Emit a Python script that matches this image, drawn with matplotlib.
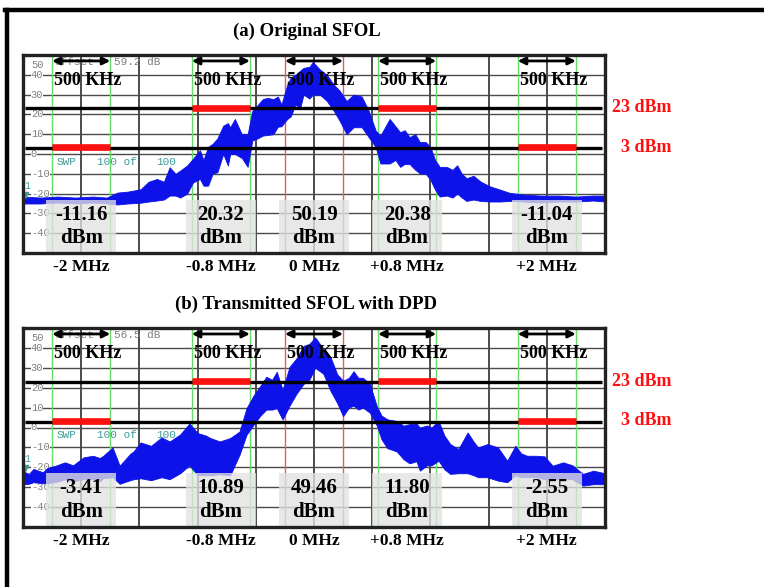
import matplotlib
matplotlib.use('Agg')
import numpy as np
import matplotlib.pyplot as plt
from matplotlib.patches import Rectangle
from matplotlib.lines import Line2D
import matplotlib.transforms as mtransforms

freq_a = [-2.50, -2.35, -2.20, -2.05, -1.90, -1.78, -1.69, -1.60, -1.49, -1.42,
          -1.35, -1.29, -1.24, -1.19, -1.15, -1.09, -1.04, -0.98, -0.95, -0.91,
          -0.87, -0.83, -0.78, -0.74, -0.72, -0.68, -0.62, -0.57, -0.53, -0.48,
          -0.44, -0.40, -0.35, -0.31, -0.28, -0.23, -0.20, -0.16, -0.12, -0.09,
          -0.04, -0.01, 0.05, 0.11, 0.17, 0.22, 0.28, 0.34, 0.41, 0.47,
          0.53, 0.57, 0.65, 0.70, 0.74, 0.78, 0.82, 0.87, 0.91, 0.96,
          1.00, 1.04, 1.08, 1.14, 1.19, 1.23, 1.27, 1.31, 1.37, 1.43,
          1.51, 1.60, 1.68, 1.80, 1.95, 2.10, 2.25, 2.40, 2.50]
top_a = [-21.5, -22, -21.5, -22, -21.5, -22, -19.5, -19, -17.8, -14,
         -12.6, -14, -6.7, -10, -8.4, -5.8, -2.4, 1.9, -3, 3.6,
         5.2, 7.9, 14.3, 15.6, 13.5, 17.7, 10, 10, 21.8, 25,
         27.7, 28.4, 27.7, 29, 25, 35, 38.6, 40, 42, 43.5,
         44, 46.5, 42.7, 40, 35, 32, 26.8, 30, 29, 21.8,
         11.8, 9.3, 17.7, 14, 11, 12, 8.5, 10, 6, 6,
         3.5, -3, -6.5, -6.5, -8, -5.7, -10, -12.2, -11, -13.9,
         -16.3, -18, -19.6, -20.5, -21, -21, -21.5, -21, -21]
bot_a = [-25, -25, -24.5, -25, -24.5, -25, -25.5, -25, -24.6, -24,
         -23.5, -23, -21, -21, -22, -20, -14.4, -12.6, -16, -16,
         -9.8, -9.2, 0, -5.8, 0, 0, -2, -6.5, 6.8, 8,
         9.3, 9.6, 10, 13.8, 14, 17.7, 19, 25, 23, 30,
         28, 30, 30, 26.8, 21.8, 16.8, 10, 13.5, 13.5, 8.5,
         3.5, -4.8, -4.8, -3, -6.5, -5, -5, -8, -9.8, -10,
         -13, -18, -21.5, -21, -22, -20, -22, -23.7, -23, -23.7,
         -24, -24, -23.7, -24, -24.5, -24, -24, -23.5, -24]

freq_b = [-2.50, -2.45, -2.41, -2.33, -2.29, -2.22, -2.14, -2.07, -1.98, -1.90,
          -1.84, -1.81, -1.73, -1.67, -1.58, -1.55, -1.49, -1.40, -1.31, -1.24,
          -1.15, -1.07, -1.00, -0.93, -0.89, -0.81, -0.72, -0.64, -0.58, -0.52,
          -0.46, -0.41, -0.36, -0.32, -0.27, -0.21, -0.15, -0.09, -0.04, 0.01,
          0.08, 0.14, 0.20, 0.25, 0.30, 0.34, 0.38, 0.42, 0.48, 0.54,
          0.58, 0.63, 0.71, 0.77, 0.82, 0.88, 0.91, 0.97, 1.01, 1.07,
          1.12, 1.17, 1.24, 1.32, 1.37, 1.41, 1.49, 1.58, 1.66, 1.73,
          1.78, 1.83, 1.91, 1.98, 2.05, 2.14, 2.22, 2.31, 2.40, 2.50]
top_b = [-22, -23.3, -20.8, -22.5, -20.3, -19.2, -17.5, -19, -15, -14.2,
         -15.3, -14.2, -10, -19.2, -13.3, -12, -7.5, -9.2, -5, -7,
         -3.5, 2, -2.8, -4, -5.3, -7, -5.3, -2, 9.7, 16,
         21, 25.5, 24, 28, 19, 30.5, 34.8, 41, 42, 45.3,
         39.6, 35.6, 26.7, 23.5, 25, 28.3, 25, 25, 21.9, 10.6,
         6, 4.1, 3.3, 0.9, 1.7, 2, 0, 1, 0, 3.3,
         -4, -8.3, -10.8, -2.5, -7, -10, -8.3, -10, -16.7, -9.2,
         -13, -14.2, -14.2, -14.5, -19.2, -17.5, -19, -23.3, -21.7, -23]
bot_b = [-28.5, -28.3, -27.5, -28, -28, -27.5, -26, -27, -26, -26,
         -27, -25.5, -25, -28.3, -26.5, -26, -25.5, -26.5, -25, -26,
         -23, -19, -24, -24, -24, -23.5, -24, -13.7, -3.7, 1.3,
         6, 9, 9, 9.7, 4, 11, 17, 21.9, 24, 30,
         27, 18.6, 12.2, 5.7, 10, 11, 9, 10, 7.4, 0.9,
         -6, -10.4, -12, -16, -18, -17, -21.7, -19, -19, -16.7,
         -21, -23.3, -23, -23, -24, -25, -25, -26.7, -27.5, -24,
         -25, -25, -25, -26, -26, -25.5, -26, -29.2, -28.5, -28.5]

channels = [-2, -0.8, 0, 0.8, 2]
chan_width = 0.5
chan_labels = ['-2 MHz', '-0.8 MHz', '0 MHz', '+0.8 MHz', '+2 MHz']
mask_level = [3, 23, None, 23, 3]
limit_lines = [23, 3]
limit_labels = ['23 dBm', '3 dBm']
power_a = ['-11.16', '20.32', '50.19', '20.38', '-11.04']
power_b = ['-3.41', '10.89', '49.46', '11.80', '-2.55']
offset_a = '59.2'
offset_b = '56.5'
ylevels = [40, 30, 20, 10, 0, -10, -20, -30, -40]

SERIF = ['Liberation Serif', 'DejaVu Serif']
MONO = ['Liberation Mono', 'DejaVu Sans Mono']
BLUE = '#0c12e8'
TEAL = '#3c9a9a'

fig = plt.figure(figsize=(7.64, 5.87), dpi=100)

# frame lines of the page (top and left)
fig.add_artist(Line2D([5 / 764, 1], [1 - 10 / 587, 1 - 10 / 587], color='black', lw=3.2))
fig.add_artist(Line2D([7 / 764, 7 / 764], [0, 1 - 10 / 587], color='black', lw=3.2))


def draw_panel(ax, title, freq, top, bot, powers, offset):
    ax.set_xlim(-2.5, 2.5)
    ax.set_ylim(-50, 50)
    for s in ax.spines.values():
        s.set_linewidth(2.4)
        s.set_color('#222222')
        s.set_zorder(20)

    # analyzer graticule
    for gx in np.linspace(-2.5, 2.5, 11)[1:-1]:
        ax.axvline(gx, color='#1a1a1a', lw=1.1, zorder=1)
    for gy in ylevels:
        ax.axhline(gy, color='#4a4a4a', lw=1.0, zorder=1)

    # left-side scale labels of the instrument
    trans = mtransforms.blended_transform_factory(ax.transAxes, ax.transData)
    for gy in ylevels:
        ax.text(0.0135, gy, str(gy), transform=trans, fontsize=7.5, family=MONO,
                color='#808080', va='center', ha='left', zorder=2,
                bbox=dict(facecolor='white', edgecolor='none', pad=0.0))
    ax.text(0.0135, 45.2, '50', transform=trans, fontsize=7.5, family=MONO,
            color='#808080', va='center', ha='left', zorder=2)
    ax.text(-2.23, 46.6, 'Offset', fontsize=8, family=MONO, color='#808080',
            va='center', ha='left', zorder=2)
    ax.text(-1.72, 46.6, offset + ' dB', fontsize=8, family=MONO, color='#808080',
            va='center', ha='left', zorder=2)
    ax.text(-2.21, -4, 'SWP', fontsize=8, family=MONO, color=TEAL, va='center', zorder=2)
    ax.text(-1.86, -4, '100 of', fontsize=8, family=MONO, color=TEAL, va='center', zorder=2)
    ax.text(-1.36, -4, '100', fontsize=8, family=MONO, color=TEAL, va='center', zorder=2)
    ax.text(-2.49, -16, '1', fontsize=7, family=MONO, color=TEAL, va='center', zorder=2)
    ax.plot([-2.485], [-20.5], marker='v', color=TEAL, ms=5, zorder=4, clip_on=False)

    # channel borders
    for c in channels:
        col = '#e06060' if c == 0 else '#66dd66'
        for e in (c - chan_width / 2, c + chan_width / 2):
            ax.axvline(e, color=col, lw=1.0, zorder=2)

    # spectrum trace
    ax.fill_between(freq, bot, top, color=BLUE, lw=0.6, edgecolor=BLUE, zorder=3)

    # limit lines and mask bars
    for lv in limit_lines:
        ax.plot([-2.48, 2.47], [lv, lv], color='black', lw=2.4, zorder=4,
                solid_capstyle='butt')
    for c, m in zip(channels, mask_level):
        if m is not None:
            ax.plot([c - chan_width / 2, c + chan_width / 2], [m + 0.4, m + 0.4],
                    color='#ff1010', lw=4.8, zorder=5, solid_capstyle='butt')

    # channel arrows and labels
    for c in channels:
        l, r = c - chan_width / 2, c + chan_width / 2
        ax.annotate('', xy=(r, 47), xytext=(l, 47),
                    arrowprops=dict(arrowstyle='<|-|>', lw=2.0, color='black',
                                    mutation_scale=11, shrinkA=0, shrinkB=0),
                    zorder=8)
        ax.text(l + 0.02, 37.2, '500 KHz', family=SERIF, fontweight='bold',
                fontsize=13, va='center', ha='left', zorder=9)

    # channel power boxes
    for c, p in zip(channels, powers):
        ax.add_patch(Rectangle((c - 0.3, -50), 0.6, 27, facecolor='#e2e2e2',
                               edgecolor='none', alpha=0.78, zorder=6))
        ax.text(c, -30.6, p, family=SERIF, fontweight='bold', fontsize=15,
                ha='center', va='center', zorder=7)
        ax.text(c, -42.4, 'dBm', family=SERIF, fontweight='bold', fontsize=15,
                ha='center', va='center', zorder=7)

    # limit labels to the right
    for lv, lab in zip(limit_lines, limit_labels):
        ax.text(3.07, lv + 0.3, lab, family=SERIF, fontweight='bold', fontsize=13,
                color='#ff1010', ha='right', va='center', clip_on=False)

    ax.set_xticks(channels)
    ax.set_xticklabels(chan_labels, family=SERIF, fontweight='bold', fontsize=12.5)
    ax.tick_params(axis='x', length=0, pad=4)
    ax.set_yticks([])
    ax.set_title(title, family=SERIF, fontweight='bold', fontsize=13.5, pad=14, x=0.487)


ax_a = fig.add_axes([23 / 764, 1 - 253 / 587, 582 / 764, 198 / 587])
draw_panel(ax_a, '(a) Original SFOL', freq_a, top_a, bot_a, power_a, offset_a)

ax_b = fig.add_axes([23 / 764, 1 - 527 / 587, 582 / 764, 199 / 587])
draw_panel(ax_b, '(b) Transmitted SFOL with DPD', freq_b, top_b, bot_b, power_b, offset_b)

fig.savefig('out.png', dpi=100)
